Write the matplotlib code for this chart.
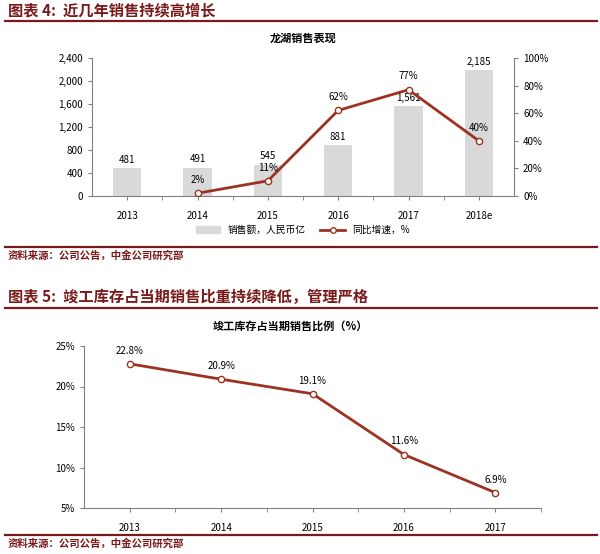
import matplotlib
matplotlib.use("Agg")
import matplotlib.pyplot as plt
from matplotlib.lines import Line2D
from matplotlib.patches import Patch

plt.rcParams["font.family"] = ["Noto Sans CJK SC", "DejaVu Sans"]

years1 = ["2013", "2014", "2015", "2016", "2017", "2018e"]
sales = [481, 491, 545, 881, 1561, 2185]
growth_years = ["2014", "2015", "2016", "2017", "2018e"]
growth = [2, 11, 62, 77, 40]

years2 = ["2013", "2014", "2015", "2016", "2017"]
ratio = [22.8, 20.9, 19.1, 11.6, 6.9]

W, H = 600, 554
RED = "#9C3322"
RULE = "#7A1A1A"
GREY = "#D9D9D9"
fig = plt.figure(figsize=(6, 5.54), dpi=100)

def ax_px(l, t, r, b):
    return fig.add_axes([l / W, 1 - b / H, (r - l) / W, (b - t) / H])

def ftext(x, y, s, **kw):
    fig.text(x / W, 1 - y / H, s, **kw)

def rule(y):
    fig.add_artist(Line2D([5 / W, 597 / W], [1 - y / H] * 2, color=RULE, lw=1.6))

# headers
ftext(8, 10, "图表 4:  近几年销售持续高增长", fontsize=11, color=RULE, va="center", weight="bold")
rule(21)
ftext(303, 38, "龙湖销售表现", fontsize=8, weight="bold", ha="center", va="center")
rule(247)
ftext(8, 256, "资料来源：公司公告，中金公司研究部", fontsize=7.5, color=RULE, va="center", weight="bold")
ftext(8, 297, "图表 5:  竣工库存占当期销售比重持续降低，管理严格", fontsize=11, color=RULE, va="center", weight="bold")
rule(308)
ftext(290, 326, "竣工库存占当期销售比例（%）", fontsize=8, weight="bold", ha="center", va="center")
rule(535)
ftext(8, 544, "资料来源：公司公告，中金公司研究部", fontsize=7.5, color=RULE, va="center", weight="bold")

def style(ax):
    for s in ["top", "right"]:
        ax.spines[s].set_visible(False)
    for s in ax.spines.values():
        s.set_color("#808080"); s.set_linewidth(0.8)
    ax.tick_params(labelsize=7, length=3, color="#808080")

# chart 1
ax1 = ax_px(92, 58, 514, 196)
x1 = list(range(len(years1)))
ax1.bar(x1, sales, width=0.4, color=GREY)
ax1.set_xlim(-0.5, len(years1) - 0.5)
ax1.set_ylim(0, 2400)
ax1.set_yticks(range(0, 2401, 400))
ax1.set_yticklabels([f"{v:,}" for v in range(0, 2401, 400)])
ax1.set_xticks(x1)
ax1.set_xticklabels(years1)
ax1.set_xticks([i + 0.5 for i in x1[:-1]], minor=True)
ax1.tick_params(axis="x", which="major", length=0, pad=8)
ax1.tick_params(axis="x", which="minor", length=3, color="#808080")
style(ax1)
for i, v in enumerate(sales):
    ax1.text(i, v + 60, f"{v:,}", ha="center", va="bottom", fontsize=7)
ax2 = ax1.twinx()
gx = [years1.index(y) for y in growth_years]
ax2.plot(gx, growth, color=RED, lw=2, marker="o", ms=4.5, mfc="white", mec=RED)
ax2.set_ylim(0, 100)
ax2.set_yticks(range(0, 101, 20))
ax2.set_yticklabels([f"{v}%" for v in range(0, 101, 20)])
for s in ["top", "left", "bottom"]:
    ax2.spines[s].set_visible(False)
ax2.spines["right"].set_color("#808080")
ax2.tick_params(labelsize=7, length=3, color="#808080")
for xi, v in zip(gx, growth):
    ax2.text(xi, v + 6, f"{v}%", ha="center", va="bottom", fontsize=7)
fig.legend(handles=[Patch(color=GREY, label="销售额，人民币亿"),
                    Line2D([], [], color=RED, lw=2, marker="o", ms=4, mfc="white", mec=RED, label="同比增速，%")],
           loc="center", bbox_to_anchor=(303 / W, 1 - 230 / H), ncol=2, frameon=False,
           fontsize=7, handlelength=2.5, columnspacing=1.5)

# chart 2
ax3 = ax_px(84, 346, 541, 508)
x2 = list(range(len(years2)))
ax3.plot(x2, ratio, color=RED, lw=2, marker="o", ms=4.5, mfc="white", mec=RED)
ax3.set_xlim(-0.5, len(years2) - 0.5)
ax3.set_ylim(5, 25)
ax3.set_yticks(range(5, 26, 5))
ax3.set_yticklabels([f"{v}%" for v in range(5, 26, 5)])
ax3.set_xticks(x2)
ax3.set_xticklabels(years2)
ax3.set_xticks([i + 0.5 for i in x2], minor=True)
ax3.tick_params(axis="x", which="major", length=0, pad=8)
ax3.tick_params(axis="x", which="minor", length=3, color="#808080")
style(ax3)
for xi, v in zip(x2, ratio):
    ax3.text(xi, v + 1.0, f"{v}%", ha="center", va="bottom", fontsize=7)

fig.savefig("out.png", dpi=100, facecolor="white")
